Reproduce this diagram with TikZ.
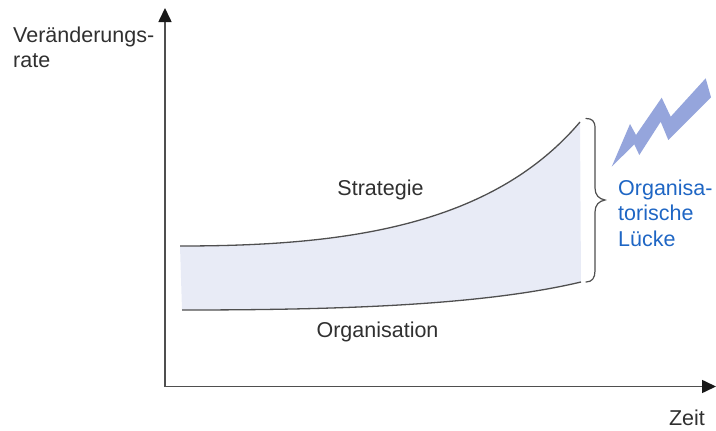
\documentclass[tikz,border=0pt]{standalone}
\usepackage{fontspec}
\setmainfont{Liberation Sans}
\usetikzlibrary{arrows.meta}
\definecolor{bandfill}{HTML}{E8EBF6}
\definecolor{boltblue}{HTML}{95A5DC}
\definecolor{gapblue}{HTML}{1F66C4}
\definecolor{ink}{HTML}{303030}
\tikzset{
  axisline/.style={draw=ink!85!white,line width=1.6pt,-{Triangle[length=14pt,width=13pt,fill=black!90,color=black!90]}},
  curveline/.style={draw=ink!85!white,line width=1.3pt},
  label/.style={text=ink,font=\fontsize{21.5}{25.5}\selectfont,inner sep=0pt},
  gaplabel/.style={text=gapblue,font=\fontsize{21.5}{25.5}\selectfont,inner sep=0pt}
}
\begin{document}
\begin{tikzpicture}[x=1pt,y=-1pt]
\useasboundingbox (0,0) rectangle (716,431);
\coordinate (origin) at (165,386.5);
\coordinate (ytip) at (165,8);
\coordinate (xtip) at (716,386.5);
\coordinate (sa) at (180,246);
\coordinate (sb) at (580,122);
\coordinate (oa) at (182,310);
\coordinate (ob) at (581,282);
\fill[bandfill] (sa) .. controls (340,246) and (490,228) .. (sb) -- (ob) .. controls (480,306) and (330,310) .. (oa) -- cycle;
\draw[curveline] (sa) .. controls (340,246) and (490,228) .. (sb);
\draw[curveline] (oa) .. controls (330,310) and (480,306) .. (ob);
\draw[axisline] (origin) -- (ytip);
\draw[axisline] (origin) -- (xtip);
\draw[draw=ink!85!white,line width=1.2pt,line cap=round] (586,118.5) .. controls (592,118.5) and (595,121) .. (595,128) -- (595,188) .. controls (595,195) and (599,199) .. (605,200) .. controls (599,201) and (595,205) .. (595,212) -- (595,271) .. controls (595,278) and (592,282) .. (586,282);
\fill[boltblue] (611.7,166.7) -- (630,124) -- (636,135) -- (661.7,97.7) -- (670.7,116.7) -- (705.7,78.3) -- (711,97.3) -- (668.3,140) -- (660.7,121.7) -- (639.3,155) -- (634.3,144.3) -- cycle;
\node[label,anchor=base west] (rate1) at (13,42.5) {Veränderungs-};
\node[label,anchor=base west] (rate2) at (13,67) {rate};
\node[label,anchor=base] (strat) at (380.5,195) {Strategie};
\node[label,anchor=base] (org) at (377.5,337.5) {Organisation};
\node[label,anchor=base] (zeit) at (687,425.5) {Zeit};
\node[gaplabel,anchor=base west] (gap1) at (618,195) {Organisa-};
\node[gaplabel,anchor=base west] (gap2) at (618,220.5) {torische};
\node[gaplabel,anchor=base west] (gap3) at (618,246) {Lücke};
\end{tikzpicture}
\end{document}
